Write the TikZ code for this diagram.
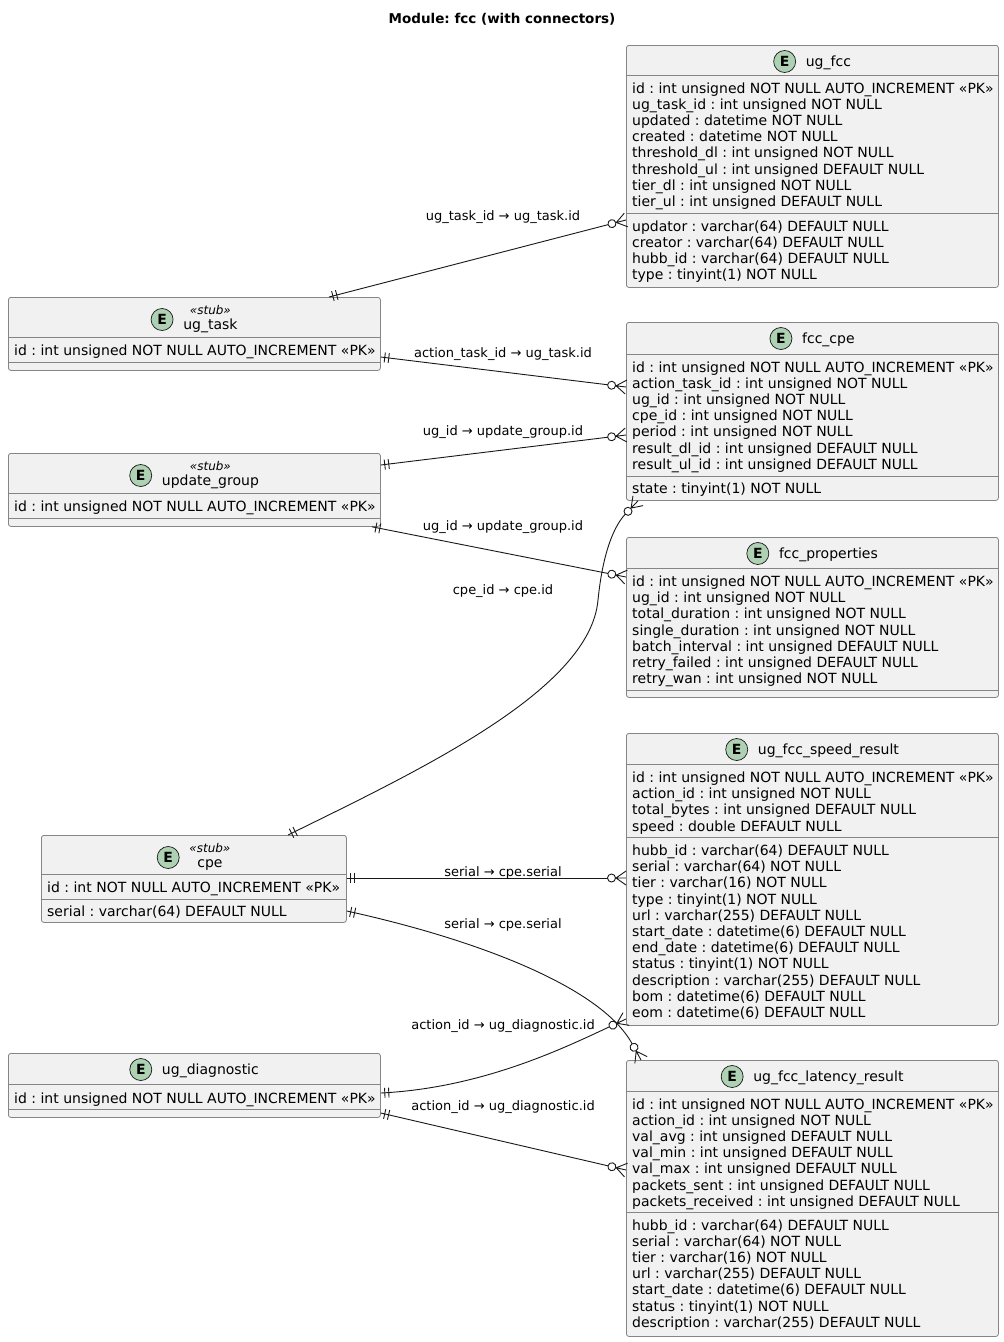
\documentclass[tikz,border=0pt]{standalone}
\usepackage{fontspec}
\setmainfont{DejaVu Sans}
\usetikzlibrary{arrows.meta,calc}
\definecolor{boxfill}{HTML}{F1F1F1}
\definecolor{bordc}{HTML}{181818}
\definecolor{boxline}{HTML}{858585}
\definecolor{spotc}{HTML}{ADD1B2}
\definecolor{linec}{HTML}{181818}
\frenchspacing

\pgfdeclarearrow{
  name = ERone,
  setup code = {
    \pgfarrowssettipend{0pt}
    \pgfarrowssetlineend{0pt}
    \pgfarrowssetbackend{-10pt}
    \pgfarrowshullpoint{0pt}{6pt}
    \pgfarrowshullpoint{0pt}{-6pt}
    \pgfarrowshullpoint{-10pt}{6pt}
    \pgfarrowshullpoint{-10pt}{-6pt}
  },
  drawing code = {
    \pgfpathmoveto{\pgfqpoint{-4pt}{-5pt}}
    \pgfpathlineto{\pgfqpoint{-4pt}{5pt}}
    \pgfpathmoveto{\pgfqpoint{-8pt}{-5pt}}
    \pgfpathlineto{\pgfqpoint{-8pt}{5pt}}
    \pgfusepathqstroke
  }
}
\pgfdeclarearrow{
  name = ERmany,
  setup code = {
    \pgfarrowssettipend{0pt}
    \pgfarrowssetlineend{-18.5pt}
    \pgfarrowssetbackend{-19pt}
    \pgfarrowshullpoint{0pt}{7pt}
    \pgfarrowshullpoint{0pt}{-7pt}
    \pgfarrowshullpoint{-19pt}{5pt}
    \pgfarrowshullpoint{-19pt}{-5pt}
  },
  drawing code = {
    \pgfpathmoveto{\pgfqpoint{0pt}{7pt}}
    \pgfpathlineto{\pgfqpoint{-10pt}{0pt}}
    \pgfpathlineto{\pgfqpoint{0pt}{-7pt}}
    \pgfpathmoveto{\pgfqpoint{-10pt}{0pt}}
    \pgfpathlineto{\pgfqpoint{0pt}{0pt}}
    \pgfusepathqstroke
    \pgfpathcircle{\pgfqpoint{-14.5pt}{0pt}}{4pt}
    \pgfusepathqstroke
  }
}

\newlength\stubw
\newcommand\attrfont{\fontsize{14}{16.2}\selectfont}
\newcommand\stereofont{\itshape\fontsize{12}{14}\selectfont}
\newcommand\stubwide[1]{\settowidth\stubw{\stereofont «stub»}\makebox[\stubw][c]{#1}}
\tikzset{
  ebox/.style={draw=boxline, fill=boxfill, rounded corners=2.5pt, line width=0.8pt,
    anchor=north west, inner sep=0pt},
  sepline/.style={draw=boxline, line width=0.8pt},
  attr/.style={anchor=base west, inner sep=0pt, font=\attrfont},
  ename/.style={anchor=base, inner sep=0pt, font=\attrfont},
  stereo/.style={anchor=base, inner sep=0pt, font=\stereofont},
  spot/.style={circle, draw=bordc, fill=spotc, minimum size=22pt, inner sep=0pt,
    line width=0.7pt, font=\bfseries\fontsize{14}{14}\selectfont},
  lbl/.style={anchor=base, inner sep=0pt, font=\fontsize{13}{15}\selectfont},
  titlestyle/.style={anchor=base, inner sep=0pt, font=\bfseries\fontsize{13.5}{16}\selectfont},
  rel/.style={draw=linec, line width=0.9pt, arrows={ERone-ERmany}},
}
\newcommand\attrs[4]{%
  \foreach \attrtext [count=\ai] in {#4}{%
    \node[attr] (#1-\ai) at (#2,{#3+(\ai-1)*16.2}) {\attrtext};}}
\newcommand\sepl[2]{\draw[sepline] (#1.west |- 0,#2) -- (#1.east |- 0,#2);}
\newcommand\hdr[3]{%
  \node[ename] (#3) at ($(#1.north)+(0,21)$) {\hspace*{32pt}#2};
  \node[spot] (#3-E) at ($(#3.west |- #1.north)+(11,16.5)$) {E};}
\newcommand\hdrstub[3]{%
  \node[ename] (#3) at ($(#1.north)+(0,32.5)$) {\hspace*{32pt}#2};
  \node[stereo] (#3-s) at ($(#3.base)+(16,-15.5)$) {«stub»};
  \node[spot] (#3-E) at ($(#3.west |- #1.north)+(11,22.5)$) {E};}

\begin{document}
\begin{tikzpicture}[x=1pt,y=-1pt]
\useasboundingbox[fill=white] (0,0) rectangle (1004,1342);

\node[titlestyle] (title) at (502,23) {Module: fcc (with connectors)};

% ---------------- ug_fcc
\node[ebox, minimum width=372pt, minimum height=242pt] (ugfcc) at (626,45) {};
\hdr{ugfcc}{ug\_fcc}{ugfccH}
\sepl{ugfcc}{75}
\sepl{ugfcc}{213}
\attrs{ugfccA}{632}{93}{id : int unsigned NOT NULL AUTO\_INCREMENT «PK»,
  ug\_task\_id : int unsigned NOT NULL,
  updated : datetime NOT NULL,
  created : datetime NOT NULL,
  threshold\_dl : int unsigned NOT NULL,
  threshold\_ul : int unsigned DEFAULT NULL,
  tier\_dl : int unsigned NOT NULL,
  tier\_ul : int unsigned DEFAULT NULL}
\attrs{ugfccB}{632}{231}{updator : varchar(64) DEFAULT NULL,
  creator : varchar(64) DEFAULT NULL,
  hubb\_id : varchar(64) DEFAULT NULL,
  type : tinyint(1) NOT NULL}

% ---------------- fcc_cpe
\node[ebox, minimum width=372pt, minimum height=178pt] (fcccpe) at (626,322) {};
\hdr{fcccpe}{fcc\_cpe}{fcccpeH}
\sepl{fcccpe}{354}
\sepl{fcccpe}{476.5}
\attrs{fcccpeA}{632}{372}{id : int unsigned NOT NULL AUTO\_INCREMENT «PK»,
  action\_task\_id : int unsigned NOT NULL,
  ug\_id : int unsigned NOT NULL,
  cpe\_id : int unsigned NOT NULL,
  period : int unsigned NOT NULL,
  result\_dl\_id : int unsigned DEFAULT NULL,
  result\_ul\_id : int unsigned DEFAULT NULL}
\attrs{fcccpeB}{632}{493.5}{state : tinyint(1) NOT NULL}

% ---------------- fcc_properties
\node[ebox, minimum width=372pt, minimum height=160pt] (fccprop) at (626,537) {};
\hdr{fccprop}{fcc\_properties}{fccpropH}
\sepl{fccprop}{568.5}
\sepl{fccprop}{690}
\attrs{fccpropA}{632}{586.5}{id : int unsigned NOT NULL AUTO\_INCREMENT «PK»,
  ug\_id : int unsigned NOT NULL,
  total\_duration : int unsigned NOT NULL,
  single\_duration : int unsigned NOT NULL,
  batch\_interval : int unsigned DEFAULT NULL,
  retry\_failed : int unsigned DEFAULT NULL,
  retry\_wan : int unsigned NOT NULL}

% ---------------- ug_fcc_speed_result
\node[ebox, minimum width=372pt, minimum height=292pt] (speed) at (626,733) {};
\hdr{speed}{ug\_fcc\_speed\_result}{speedH}
\sepl{speed}{764.5}
\sepl{speed}{837.5}
\attrs{speedA}{632}{782.5}{id : int unsigned NOT NULL AUTO\_INCREMENT «PK»,
  action\_id : int unsigned NOT NULL,
  total\_bytes : int unsigned DEFAULT NULL,
  speed : double DEFAULT NULL}
\attrs{speedB}{632}{855.5}{hubb\_id : varchar(64) DEFAULT NULL,
  serial : varchar(64) NOT NULL,
  tier : varchar(16) NOT NULL,
  type : tinyint(1) NOT NULL,
  url : varchar(255) DEFAULT NULL,
  start\_date : datetime(6) DEFAULT NULL,
  end\_date : datetime(6) DEFAULT NULL,
  status : tinyint(1) NOT NULL,
  description : varchar(255) DEFAULT NULL,
  bom : datetime(6) DEFAULT NULL,
  eom : datetime(6) DEFAULT NULL}

% ---------------- ug_fcc_latency_result
\node[ebox, minimum width=372pt, minimum height=276pt] (latency) at (626,1060) {};
\hdr{latency}{ug\_fcc\_latency\_result}{latencyH}
\sepl{latency}{1091}
\sepl{latency}{1212}
\attrs{latencyA}{632}{1109}{id : int unsigned NOT NULL AUTO\_INCREMENT «PK»,
  action\_id : int unsigned NOT NULL,
  val\_avg : int unsigned DEFAULT NULL,
  val\_min : int unsigned DEFAULT NULL,
  val\_max : int unsigned DEFAULT NULL,
  packets\_sent : int unsigned DEFAULT NULL,
  packets\_received : int unsigned DEFAULT NULL}
\attrs{latencyB}{632}{1230}{hubb\_id : varchar(64) DEFAULT NULL,
  serial : varchar(64) NOT NULL,
  tier : varchar(16) NOT NULL,
  url : varchar(255) DEFAULT NULL,
  start\_date : datetime(6) DEFAULT NULL,
  status : tinyint(1) NOT NULL,
  description : varchar(255) DEFAULT NULL}

% ---------------- ug_task (stub)
\node[ebox, minimum width=372pt, minimum height=73pt] (ugtask) at (8,297) {};
\hdrstub{ugtask}{ug\_task}{ugtaskH}
\sepl{ugtask}{337}
\sepl{ugtask}{362}
\attrs{ugtaskA}{14}{355}{id : int unsigned NOT NULL AUTO\_INCREMENT «PK»}

% ---------------- update_group (stub)
\node[ebox, minimum width=372pt, minimum height=73pt] (updgrp) at (8,453) {};
\hdrstub{updgrp}{update\_group}{updgrpH}
\sepl{updgrp}{493}
\sepl{updgrp}{518}
\attrs{updgrpA}{14}{511}{id : int unsigned NOT NULL AUTO\_INCREMENT «PK»}

% ---------------- cpe (stub)
\node[ebox, minimum width=305pt, minimum height=87pt] (cpe) at (41,835) {};
\hdrstub{cpe}{\stubwide{cpe}}{cpeH}
\sepl{cpe}{874}
\sepl{cpe}{899}
\attrs{cpeA}{47}{892}{id : int NOT NULL AUTO\_INCREMENT «PK»}
\attrs{cpeB}{47}{916}{serial : varchar(64) DEFAULT NULL}

% ---------------- ug_diagnostic
\node[ebox, minimum width=372pt, minimum height=64pt] (ugdiag) at (8,1053) {};
\hdr{ugdiag}{ug\_diagnostic}{ugdiagH}
\sepl{ugdiag}{1084.5}
\sepl{ugdiag}{1109}
\attrs{ugdiagA}{14}{1103}{id : int unsigned NOT NULL AUTO\_INCREMENT «PK»}

% ---------------- connector end points
\coordinate (c1s) at (ugtask.north -| 329,0);
\coordinate (c1e) at (ugfcc.west |- 0,220);
\coordinate (c2s) at (ugtask.east |- 0,357);
\coordinate (c2e) at (fcccpe.west |- 0,387);
\coordinate (c3s) at (updgrp.east |- 0,465);
\coordinate (c3e) at (fcccpe.west |- 0,435);
\coordinate (c4s) at (updgrp.south -| 372,0);
\coordinate (c4e) at (fccprop.west |- 0,577);
\coordinate (c5s) at (cpe.north -| 288,0);
\coordinate (c5e) at (fcccpe.south -| 638,0);
\coordinate (c6s) at (cpe.east |- 0,878);
\coordinate (c6e) at (speed.west |- 0,878);
\coordinate (c7s) at (cpe.east |- 0,911);
\coordinate (c7e) at (latency.north -| 641,0);
\coordinate (c8s) at (ugdiag.east |- 0,1093);
\coordinate (c8e) at (speed.west |- 0,1019);
\coordinate (c9s) at (ugdiag.east |- 0,1113);
\coordinate (c9e) at (latency.west |- 0,1170);

% ---------------- connectors
\draw[rel] (c1s) -- (c1e);
\draw[rel] (c2s) -- (c2e);
\draw[rel] (c3s) -- (c3e);
\draw[rel] (c4s) -- (c4e);
\draw[rel] (c5s) .. controls (420,770) and (590,690) .. (598,600)
                 .. controls (603,550) and (615,525) .. (c5e);
\draw[rel] (c6s) -- (c6e);
\draw[rel] (c7s) .. controls (470,938) and (600,985) .. (c7e);
\draw[rel] (c8s) .. controls (480,1088) and (560,1050) .. (c8e);
\draw[rel] (c9s) -- (c9e);

% ---------------- labels
\node[lbl] (l1) at (503,220.5) {ug\_task\_id → ug\_task.id};
\node[lbl] (l2) at (503,357.5) {action\_task\_id → ug\_task.id};
\node[lbl] (l3) at (503,435) {ug\_id → update\_group.id};
\node[lbl] (l4) at (503,530) {ug\_id → update\_group.id};
\node[lbl] (l5) at (503,594) {cpe\_id → cpe.id};
\node[lbl] (l6) at (503,876) {serial → cpe.serial};
\node[lbl] (l7) at (503,928) {serial → cpe.serial};
\node[lbl] (l8) at (503,1029) {action\_id → ug\_diagnostic.id};
\node[lbl] (l9) at (503,1110) {action\_id → ug\_diagnostic.id};
\end{tikzpicture}
\end{document}
